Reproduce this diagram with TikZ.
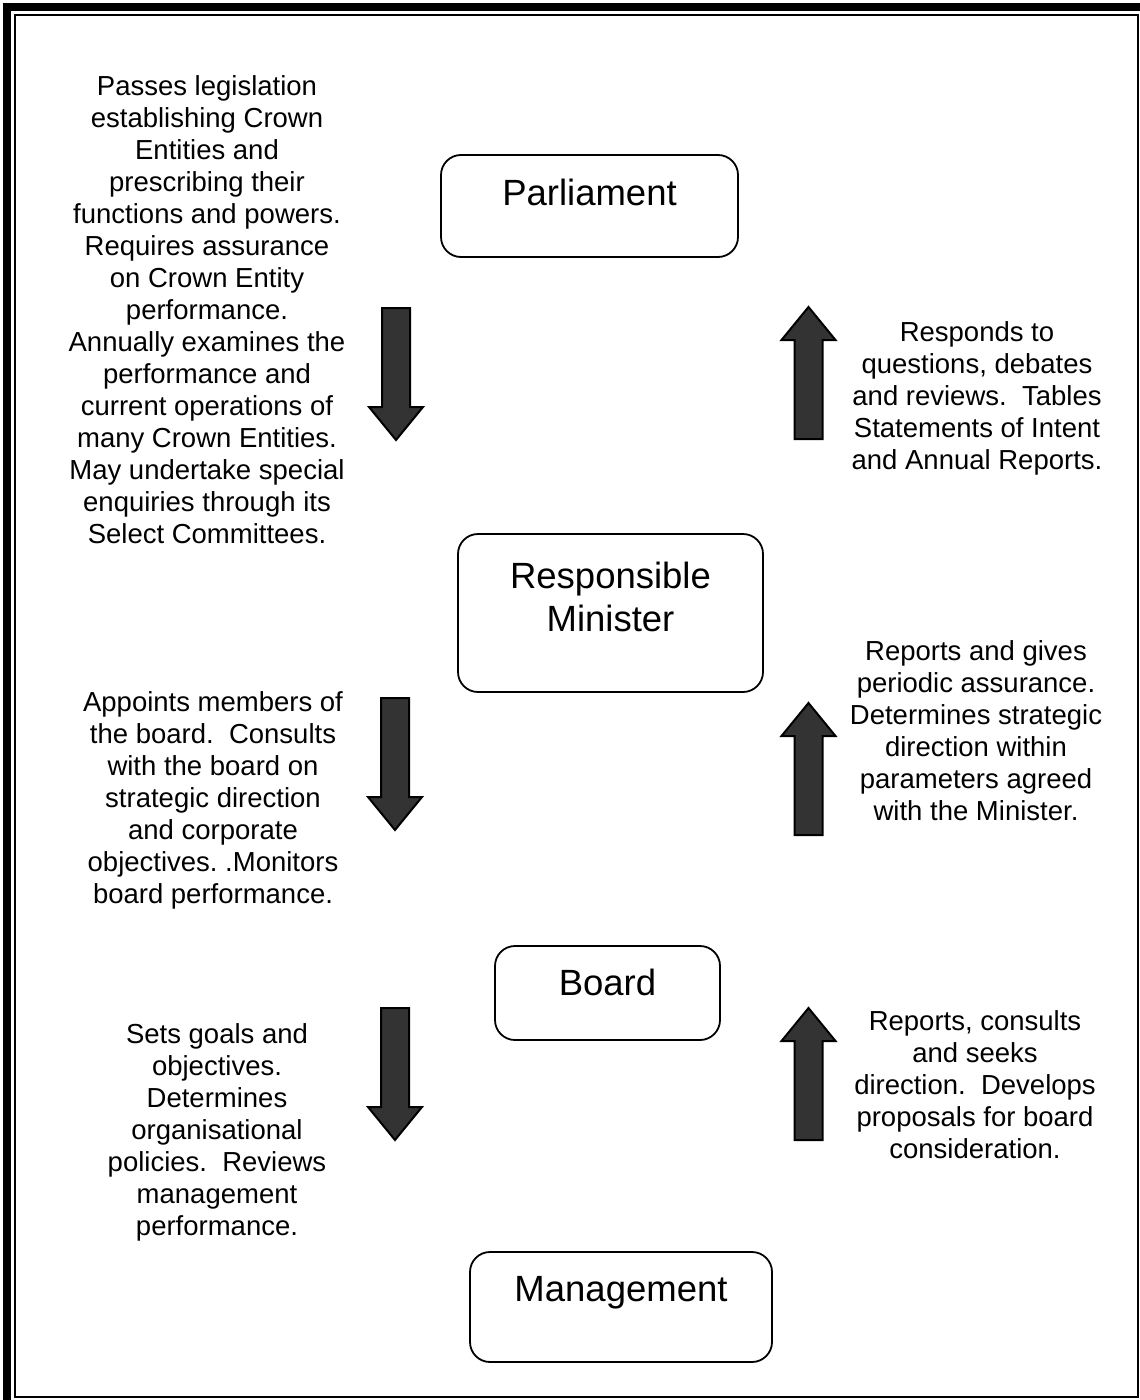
\documentclass[tikz,border=0pt]{standalone}
\usepackage{fontspec}
\setmainfont{Liberation Sans}
\frenchspacing
\usetikzlibrary{positioning}
\definecolor{arrowgrey}{HTML}{333333}
\tikzset{
  rolebox/.style={draw=black, line width=1.8pt, rounded corners=20pt, inner sep=0pt},
  roletitle/.style={font=\fontsize{36.5}{43}\selectfont, align=center, inner sep=0pt},
  duty/.style={font=\fontsize{27.5}{32}\selectfont, align=center, inner sep=0pt},
  blockarrow/.style={draw=black, fill=arrowgrey, line width=2pt, line join=miter},
  pics/downarrow/.style={code={\draw[blockarrow] (-14,0) -- (14,0) -- (14,99) -- (27,99) -- (0,132) -- (-27,99) -- (-14,99) -- cycle;}},
  pics/uparrow/.style={code={\draw[blockarrow] (0,0) -- (27,33) -- (14,33) -- (14,132) -- (-14,132) -- (-14,33) -- (-27,33) -- cycle;}}
}

\begin{document}
\begin{tikzpicture}[x=1pt, y=-1pt]
\useasboundingbox (0,0) rectangle (1140,1400);
\clip (0,0) rectangle (1140,1400);
% page border
\draw[line width=8pt] (7,1420) |- (1160,7);
\draw[line width=2pt] (14.5,14.5) rectangle (1138,1397);

% roles
\node[rolebox, minimum width=297pt, minimum height=102pt] (parl) at (589.5,206) {};
\node[rolebox, minimum width=305pt, minimum height=158pt] (mini) at (610.5,613) {};
\node[rolebox, minimum width=225pt, minimum height=94pt] (board) at (607.5,993) {};
\node[rolebox, minimum width=302pt, minimum height=110pt] (mgmt) at (621,1307) {};
\node[roletitle, below=25pt of parl.north] (parltitle) {Parliament};
\node[roletitle, below=29pt of mini.north] (minititle) {Responsible\\Minister};
\node[roletitle, below=24pt of board.north] (boardtitle) {Board};
\node[roletitle, below=25pt of mgmt.north] (mgmttitle) {Management};

% duties
\node[duty] (parldown) at (207,310) {Passes legislation\\establishing Crown\\Entities and\\prescribing their\\functions and powers.\\Requires assurance\\on Crown Entity\\performance.\\Annually examines the\\performance and\\current operations of\\many Crown Entities.\\May undertake special\\enquiries through its\\Select Committees.};
\node[duty] (miniup) at (977,398.5) {Responds to\\questions, debates\\and reviews.~ Tables\\Statements of Intent\\and Annual Reports.};
\node[duty] (minidown) at (213,800) {Appoints members of\\the board.~ Consults\\with the board on\\strategic direction\\and corporate\\objectives. .Monitors\\board performance.};
\node[duty] (boardup) at (976,731) {Reports and gives\\periodic assurance.\\Determines strategic\\direction within\\parameters agreed\\with the Minister.};
\node[duty] (boarddown) at (217,1132) {Sets goals and\\objectives.\\Determines\\organisational\\policies.~ Reviews\\management\\performance.};
\node[duty] (mgmtup) at (975,1085) {Reports, consults\\and seeks\\direction.~ Develops\\proposals for board\\consideration.};

% block arrows
\foreach \x/\y in {396/308, 395/698, 395/1008} {\pic at (\x,\y) {downarrow};}
\foreach \x/\y in {808.5/307, 808.5/703, 808.5/1008} {\pic at (\x,\y) {uparrow};}
\end{tikzpicture}
\end{document}
